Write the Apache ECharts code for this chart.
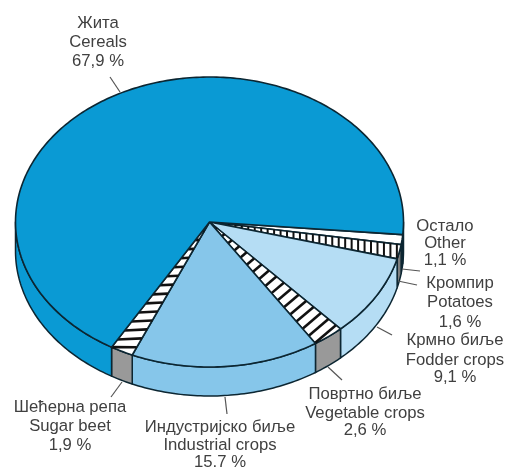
<!DOCTYPE html>
<html>
<head>
<meta charset="utf-8">
<style>html,body{margin:0;padding:0;background:#fff}#c{width:507px;height:467px}</style>
<script src="https://cdn.jsdelivr.net/npm/echarts@6/dist/echarts.min.js"></script>
</head>
<body>
<div id="c"></div>
<script>
// Data, clockwise from the slice that starts just below the east point
const namesSr = ['Остало','Кромпир','Крмно биље','Повртно биље','Индустријско биље','Шећерна репа','Жита'];
const namesEn = ['Other','Potatoes','Fodder crops','Vegetable crops','Industrial crops','Sugar beet','Cereals'];
const shares  = [1.1,1.6,9.1,2.6,15.7,1.9,67.9];
const shareLabels = ['1,1 %','1,6 %','9,1 %','2,6 %','15,7 %','1,9 %','67,9 %'];

// Styling and layout
const topColors  = ['#ffffff','#ffffff','#b5ddf4','#ffffff','#86c6ea','#ffffff','#0a9ad4'];
const sideColors = ['#1c1c1c','#7e7e7e','#b5ddf4','#999999','#86c6ea','#999999','#0a9ad4'];
const hatches = [null,{d:[0,1],n:29},null,{d:[1,-0.85],n:17},null,{d:[1,-0.05],n:14},null];
const CX=209.5, CY=222, RX=194, RY=145, DEPTH=29, START=5;
const LINE='#0c2632';
const labelPos = [
  {x:445,y:[226,243,260],lead:[[402,269],[420,271]]},
  {x:460,y:[283,302,322],lead:[[398,281],[417,285]]},
  {x:455,y:[340,360,377],lead:[[377,327],[392,335]]},
  {x:365,y:[394,413,430],lead:[[328,367],[342,380]]},
  {x:220,y:[427,445,462],lead:[[225,397],[227,414]]},
  {x:70, y:[407,426,445],lead:[[122,382],[111,397]]},
  {x:98, y:[23,42,61],  lead:[[110,77],[120,92]]}
];

const total = shares.reduce((a,b)=>a+b,0);
const spans = []; let acc = START;
shares.forEach(v=>{const s=acc; acc+=v/total*360; spans.push([s,acc]);});
const pt=(deg,dy)=>{const r=deg*Math.PI/180;return [CX+RX*Math.cos(r),CY+RY*Math.sin(r)+(dy||0)];};
const arc=(a,b,dy)=>{const out=[];const n=Math.max(2,Math.ceil(Math.abs(b-a)));for(let i=0;i<=n;i++)out.push(pt(a+(b-a)*i/n,dy));return out;};

function sideItem(params){
  const [a,b]=spans[params.dataIndex];
  const ranges=[[a,Math.min(b,180)],[Math.max(a,360),Math.min(b,540)]].filter(r=>r[1]>r[0]);
  return {type:'group',children:ranges.map(r=>({
    type:'polygon',
    shape:{points:arc(r[0],r[1],0).concat(arc(r[1],r[0],DEPTH))},
    style:{fill:sideColors[params.dataIndex],stroke:LINE,lineWidth:1.5,lineJoin:'round'}
  }))};
}
function topItem(params){
  const i=params.dataIndex,[a,b]=spans[i];
  const children=[{type:'polygon',shape:{points:[[CX,CY]].concat(arc(a,b,0))},
    style:{fill:topColors[i],stroke:LINE,lineWidth:1.6,lineJoin:'round'}}];
  const h=hatches[i];
  if(h){
    const p1=pt(a),p2=pt(b),m=[(p1[0]+p2[0])/2,(p1[1]+p2[1])/2];
    const cross=(u,v)=>u[0]*v[1]-u[1]*v[0];
    for(let k=1;k<=h.n;k++){
      const f=k/(h.n+0.35),P=[CX+(m[0]-CX)*f,CY+(m[1]-CY)*f];
      const hit=e=>{const r=[e[0]-CX,e[1]-CY],w=[P[0]-CX,P[1]-CY];const u=Math.min(1,cross(w,h.d)/cross(r,h.d));return [CX+r[0]*u,CY+r[1]*u];};
      const q1=hit(p1),q2=hit(p2);
      children.push({type:'line',shape:{x1:q1[0],y1:q1[1],x2:q2[0],y2:q2[1]},style:{stroke:'#111',lineWidth:i===1?2:2.6}});
    }
  }
  return {type:'group',children};
}
function labelItem(params){
  const i=params.dataIndex,l=labelPos[i],lines=[namesSr[i],namesEn[i],shareLabels[i]];
  const children=[{type:'line',shape:{x1:l.lead[0][0],y1:l.lead[0][1],x2:l.lead[1][0],y2:l.lead[1][1]},style:{stroke:'#555',lineWidth:1.2}}];
  lines.forEach((t,k)=>children.push({type:'text',style:{text:t,x:l.x,y:l.y[k],align:'center',verticalAlign:'middle',
    font:'16.7px "Liberation Sans", Arial, sans-serif',fill:'#404040'}}));
  return {type:'group',children};
}
const rows=shares.map((v,i)=>({name:namesEn[i],value:v}));
const chart=echarts.init(document.getElementById('c'),null,{renderer:'canvas'});
chart.setOption({
  animation:false,
  backgroundColor:'#ffffff',
  series:[
    {type:'custom',coordinateSystem:'none',renderItem:sideItem,data:rows,silent:true,z:1},
    {type:'custom',coordinateSystem:'none',renderItem:topItem,data:rows,silent:true,z:2},
    {type:'custom',coordinateSystem:'none',renderItem:labelItem,data:rows,silent:true,z:3}
  ]
});
</script>
</body>
</html>
